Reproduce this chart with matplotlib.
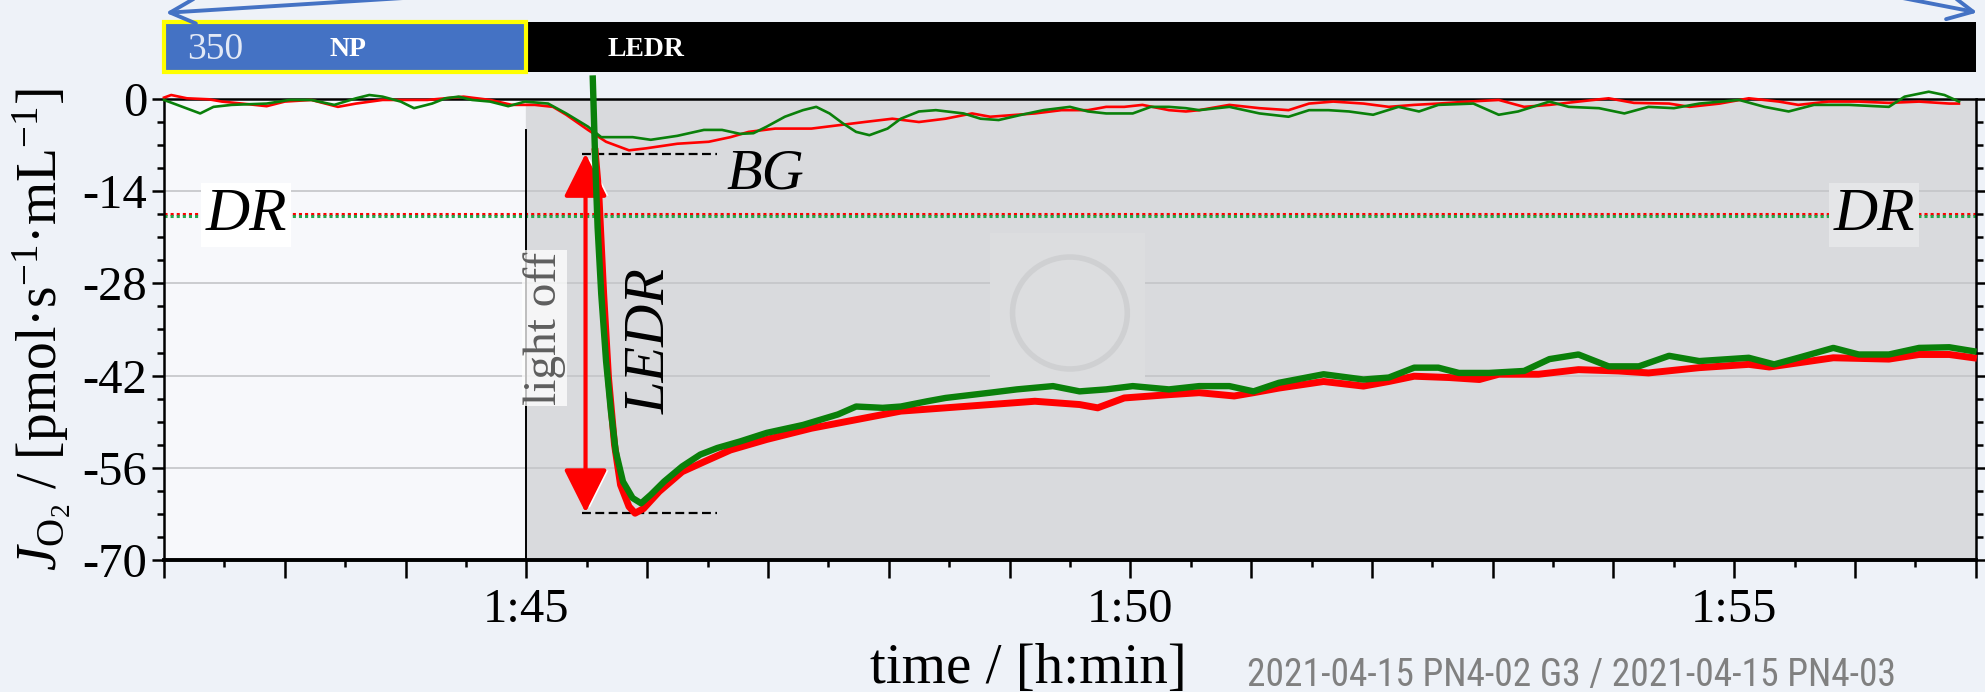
import matplotlib
matplotlib.use("Agg")
import matplotlib.pyplot as plt
from matplotlib.patches import Rectangle, Ellipse, FancyArrowPatch
from matplotlib.ticker import FixedLocator, MultipleLocator, FuncFormatter
import matplotlib.patheffects as pe

plt.rcParams['font.family'] = ['Liberation Serif', 'DejaVu Serif']
plt.rcParams['mathtext.fontset'] = 'custom'
plt.rcParams['mathtext.rm'] = 'Liberation Serif'
plt.rcParams['mathtext.it'] = 'Liberation Serif:italic'
plt.rcParams['mathtext.bf'] = 'Liberation Serif:bold'

# time in minutes (1:42 = 102 min), flux in pmol/(s*mL)
red_thin_t = [102.0, 102.06, 102.19, 102.37, 102.48, 102.70, 102.85, 103.00, 103.22, 103.44,
              103.59, 103.81, 103.96, 104.18, 104.33, 104.48, 104.70, 104.88, 105.07, 105.22,
              105.33, 105.51, 105.66, 105.85, 105.99, 106.25, 106.51, 106.69, 106.84, 107.06,
              107.36, 107.58, 107.80, 108.03, 108.25, 108.47, 108.69, 108.84, 109.21, 109.43,
              109.65, 109.80, 109.95, 110.10, 110.32, 110.46, 110.57, 110.82, 111.07, 111.31,
              111.48, 111.68, 111.93, 112.14, 112.35, 112.55, 112.80, 113.05, 113.26, 113.47,
              113.71, 113.96, 114.17, 114.46, 114.63, 114.88, 115.12, 115.37, 115.53, 115.78,
              116.03, 116.28, 116.53, 116.78, 116.86]
red_thin_v = [0.2, 0.6, 0.1, -0.05, -0.4, -0.8, -1.1, -0.4, -0.15, -1.2,
              -0.7, -0.15, -0.15, -0.15, 0.1, 0.35, -0.15, -0.9, -0.9, -1.2,
              -2.4, -4.7, -6.5, -7.8, -7.5, -6.8, -6.5, -5.8, -5.0, -4.5,
              -4.5, -4.0, -3.5, -3.0, -3.5, -3.0, -2.2, -2.7, -2.2, -1.7,
              -1.7, -1.2, -1.2, -0.9, -1.7, -1.9, -1.7, -0.9, -1.4, -1.7,
              -0.7, -0.4, -0.7, -1.2, -0.9, -0.7, -0.4, -0.15, -1.2, -0.9,
              -0.4, 0.1, -0.6, -0.7, -1.2, -0.7, 0.1, -0.4, -0.9, -0.4,
              -0.4, -0.6, -0.4, -0.7, -0.7]

green_thin_t = [102.0, 102.11, 102.30, 102.41, 102.56, 102.85, 103.04, 103.22, 103.41, 103.59,
                103.70, 103.81, 103.96, 104.07, 104.22, 104.33, 104.44, 104.55, 104.70, 104.85,
                104.99, 105.18, 105.33, 105.51, 105.62, 105.73, 105.88, 106.03, 106.25, 106.47,
                106.62, 106.77, 106.88, 106.99, 107.14, 107.29, 107.40, 107.51, 107.62, 107.73,
                107.84, 107.99, 108.10, 108.25, 108.39, 108.62, 108.76, 108.91, 109.10, 109.28,
                109.50, 109.65, 109.80, 110.02, 110.17, 110.32, 110.46, 110.57, 110.82, 111.07,
                111.31, 111.48, 111.64, 111.81, 112.01, 112.22, 112.39, 112.55, 112.84, 113.05,
                113.21, 113.47, 113.63, 113.88, 114.09, 114.29, 114.50, 114.71, 115.04, 115.25,
                115.45, 115.66, 115.95, 116.28, 116.41, 116.61, 116.74, 116.86]
green_thin_v = [-0.15, -0.9, -2.2, -1.2, -0.9, -0.7, -0.15, -0.15, -0.9, 0.1,
                0.6, 0.35, -0.4, -1.4, -0.7, 0.1, 0.35, -0.15, -0.4, -1.1,
                -0.4, -0.7, -2.2, -4.2, -5.8, -5.8, -5.8, -6.2, -5.6, -4.7,
                -4.7, -5.3, -5.2, -4.2, -2.7, -1.7, -1.2, -2.2, -3.7, -5.0,
                -5.5, -4.5, -3.0, -1.9, -1.7, -2.2, -3.0, -3.2, -2.4, -1.7,
                -1.2, -1.9, -2.2, -2.2, -1.2, -1.2, -1.4, -1.7, -1.2, -2.2,
                -2.7, -1.7, -1.7, -1.9, -2.4, -1.2, -1.9, -0.9, -0.7, -2.4,
                -1.9, -0.4, -1.2, -1.4, -2.2, -1.2, -1.4, -0.7, -0.15, -1.2,
                -1.9, -0.9, -0.9, -1.2, 0.35, 1.1, 0.6, -0.4]

green_ledr_t = [105.55, 105.57, 105.59, 105.62, 105.66, 105.70, 105.74, 105.80, 105.88, 105.95,
                106.03, 106.14, 106.29, 106.44, 106.58, 106.77, 106.99, 107.29, 107.58, 107.73,
                107.95, 108.10, 108.32, 108.47, 108.84, 109.06, 109.36, 109.58, 109.80, 110.02,
                110.32, 110.57, 110.82, 111.02, 111.23, 111.60, 111.93, 112.14, 112.35, 112.55,
                112.72, 112.97, 113.26, 113.47, 113.71, 113.96, 114.21, 114.46, 114.71, 115.12,
                115.33, 115.53, 115.82, 116.03, 116.28, 116.53, 116.78, 116.98]
green_ledr_v = [3.1, -9.3, -19.5, -29.6, -39.8, -47.4, -53.5, -58.1, -60.6, -61.4,
                -60.1, -58.1, -55.8, -54.0, -53.0, -52.0, -50.7, -49.5, -47.9, -46.7,
                -46.9, -46.7, -45.9, -45.4, -44.6, -44.1, -43.6, -44.4, -44.1, -43.6,
                -44.1, -43.6, -43.6, -44.4, -43.1, -41.8, -42.6, -42.3, -40.8, -40.8,
                -41.6, -41.6, -41.3, -39.5, -38.8, -40.6, -40.6, -39.0, -39.8, -39.3,
                -40.3, -39.3, -37.8, -38.8, -38.8, -37.8, -37.7, -38.3]

red_ledr_t = [105.57, 105.60, 105.64, 105.68, 105.73, 105.78, 105.85, 105.90, 105.97, 106.10,
              106.29, 106.47, 106.69, 106.99, 107.36, 107.73, 108.10, 108.47, 108.84, 109.21,
              109.58, 109.73, 109.95, 110.32, 110.57, 110.86, 111.02, 111.23, 111.60, 111.93,
              112.14, 112.35, 112.64, 112.89, 113.05, 113.38, 113.71, 114.04, 114.29, 114.71,
              115.12, 115.29, 115.82, 116.28, 116.53, 116.78, 116.98]
red_ledr_v = [-8.0, -14.4, -29.6, -42.3, -52.5, -58.6, -61.9, -62.9, -62.2, -59.6,
              -56.6, -55.1, -53.3, -51.7, -50.0, -48.7, -47.4, -46.9, -46.4, -45.9,
              -46.4, -46.9, -45.4, -44.9, -44.6, -45.1, -44.6, -43.9, -42.9, -43.6,
              -42.9, -42.1, -42.3, -42.6, -41.8, -41.8, -41.1, -41.3, -41.6, -40.8,
              -40.3, -40.7, -39.3, -39.5, -38.8, -38.8, -39.3]

dr_red = -17.4
dr_green = -17.8
bg_level = -8.3
ledr_min = -62.8
light_off = 105.0
t_start, t_end = 102, 117
y_ticks = [0, -14, -28, -42, -56, -70]
header_segments = [(102, 105, '#4472c4', 'NP'), (105, 117, 'black', 'LEDR')]
footer = '2021-04-15 PN4-02 G3 / 2021-04-15 PN4-03'

fig = plt.figure(figsize=(19.85, 6.92), dpi=100)
fig.patch.set_facecolor('#eef2f8')

ax = fig.add_axes([0.0826, 0.1908, 0.9128, 0.6662])
ax.set_facecolor('#f7f8fb')
ax.set_xlim(t_start, t_end)
ax.set_ylim(-70, 0)

ax.axvspan(light_off, t_end, color='#d9dadd', zorder=0)
for yv in y_ticks[1:-1]:
    ax.axhline(yv, color='#c4c5c8', lw=1.2, zorder=0.5)

# faint watermark logo
ax.add_patch(Rectangle((108.84, -44.4), 1.28, 24.1, facecolor='#dcdddf', edgecolor='none', zorder=0.6))
ax.add_patch(Ellipse((109.5, -32.5), 0.95, 17.0, facecolor='none', edgecolor='#cfd0d2', lw=4, zorder=0.7))

ax.axhline(dr_red, color='red', lw=2.2, ls=(0, (1, 1)), zorder=2)
ax.axhline(dr_green, color='#22a84c', lw=2.2, ls=(0, (1, 1)), zorder=2)

ax.plot([light_off, light_off], [-4.7, -70], color='black', lw=1.4, zorder=2)

ax.plot(red_thin_t, red_thin_v, color='red', lw=1.9, zorder=3, clip_on=False)
ax.plot(green_thin_t, green_thin_v, color='#0a800a', lw=1.9, zorder=3.1, clip_on=False)
ax.plot(red_ledr_t, red_ledr_v, color='red', lw=5, zorder=4, clip_on=False)
ax.plot(green_ledr_t, green_ledr_v, color='#0a800a', lw=4.6, zorder=4.1, clip_on=False)

# BG and LEDR markers
ax.plot([105.46, 106.58], [bg_level, bg_level], color='black', lw=1.6, ls=(0, (4, 2)), zorder=3.5)
ax.plot([105.46, 106.58], [ledr_min, ledr_min], color='black', lw=1.6, ls=(0, (4, 2)), zorder=3.5)
arr = ax.annotate('', xy=(105.49, ledr_min), xytext=(105.49, bg_level),
                  arrowprops=dict(arrowstyle='<|-|>,head_length=0.6,head_width=0.3', color='red', lw=3,
                                  mutation_scale=45, shrinkA=0, shrinkB=0), zorder=3.8)
arr.arrow_patch.set_path_effects([pe.SimplePatchShadow(offset=(3, 0), shadow_rgbFace='white', alpha=1),
                                  pe.Normal()])

ax.text(102.68, -17.6, 'DR', fontsize=44, style='italic', ha='center', va='center', zorder=5,
        bbox=dict(facecolor='white', edgecolor='none', pad=3))
ax.text(116.16, -17.6, 'DR', fontsize=44, style='italic', ha='center', va='center', zorder=5,
        bbox=dict(facecolor='#e5e6e8', edgecolor='none', pad=3))
ax.text(106.98, -11.5, 'BG', fontsize=42, style='italic', ha='center', va='center', zorder=5)
ax.text(106.03, -36.8, 'LEDR', fontsize=42, style='italic', rotation=90, ha='center', va='center', zorder=5)
ax.text(105.15, -34.8, 'light off', fontsize=34, color='#5e5e5e', rotation=90, ha='center', va='center',
        zorder=5, bbox=dict(facecolor='white', edgecolor='none', alpha=0.75, pad=1))

# axes styling
for side in ['left', 'right', 'top']:
    ax.spines[side].set_linewidth(1.8)
ax.spines['bottom'].set_linewidth(2.8)
ax.xaxis.set_major_locator(MultipleLocator(1))
ax.xaxis.set_minor_locator(MultipleLocator(0.5))
ax.xaxis.set_major_formatter(FuncFormatter(
    lambda v, p: f"{int(round(v)) // 60}:{int(round(v)) % 60:02d}" if round(v) % 5 == 0 else ""))
ax.yaxis.set_major_locator(FixedLocator(y_ticks))
ax.yaxis.set_minor_locator(MultipleLocator(3.5))
ax.yaxis.set_major_formatter(FuncFormatter(lambda v, p: f"{int(v)}"))
ax.tick_params(axis='x', which='major', direction='out', length=13, width=1.8, pad=7, labelsize=35)
ax.tick_params(axis='x', which='minor', direction='out', length=5, width=1.8)
ax.tick_params(axis='y', which='major', direction='out', length=9, width=1.8, pad=3, labelsize=35,
               right=True)
ax.tick_params(axis='y', which='minor', direction='out', length=5, width=1.8, right=True)

ax.set_xlabel('time / [h:min]', fontsize=41)
ax.xaxis.set_label_coords(0.477, -0.18)
ax.set_ylabel(r'$J_{\mathrm{O}_2}$ / [pmol·s$^{-1}$·mL$^{-1}$]', fontsize=40)
ax.yaxis.set_label_coords(-0.05, 0.5)

# header bar with the protocol marks
hax = fig.add_axes([0.0826, 0.896, 0.9128, 0.0723])
hax.set_xlim(t_start, t_end)
hax.set_ylim(0, 1)
hax.axis('off')
for x0, x1, col, lab in header_segments:
    hax.add_patch(Rectangle((x0, 0), x1 - x0, 1, facecolor=col, edgecolor='none'))
hax.add_patch(Rectangle((102, 0), 3, 1, facecolor='none', edgecolor='#ffff00', lw=3, clip_on=False))
hax.text(102.42, 0.45, '350', fontsize=27, color='#e2e9f6', ha='center', va='center')
hax.text(103.52, 0.45, 'NP', fontsize=20, color='white', weight='bold', ha='center', va='center')
hax.text(105.99, 0.45, 'LEDR', fontsize=20, color='white', weight='bold', ha='center', va='center')

# blue arrows leaving the top
fig.add_artist(FancyArrowPatch((580, 705), (163, 679), transform=None, arrowstyle='->',
                               mutation_scale=45, color='#4472c4', lw=2.8))
fig.add_artist(FancyArrowPatch((1846, 705), (1980, 679), transform=None, arrowstyle='->',
                               mutation_scale=45, color='#4472c4', lw=2.8))

ft = fig.text(1247 / 1985, 0.008, footer, fontsize=27, color='#808080',
              family=['Roboto Condensed', 'Liberation Sans Narrow', 'Liberation Sans', 'DejaVu Sans'],
              stretch='condensed', va='baseline')
# shrink the footer until it fits inside the figure
r = fig.canvas.get_renderer()
w = ft.get_window_extent(r).width
room = 1980 - 1247
if w > room:
    ft.set_fontsize(27 * room / w)

fig.savefig('out.png', dpi=100, facecolor=fig.get_facecolor())
